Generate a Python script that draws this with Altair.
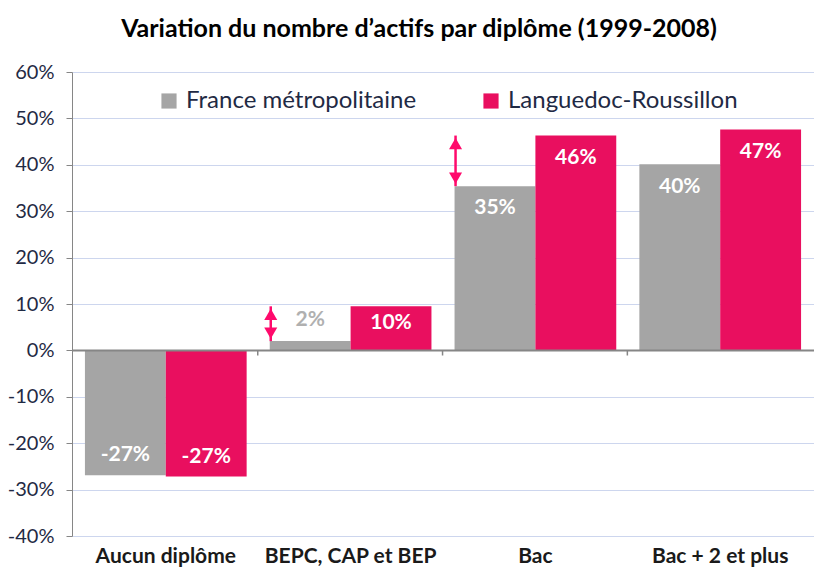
import altair as alt
import pandas as pd

categories = ["Aucun diplôme", "BEPC, CAP et BEP", "Bac", "Bac + 2 et plus"]
series = ["France métropolitaine", "Languedoc-Roussillon"]
france = [-26.9, 2.0, 35.4, 40.1]
lr = [-27.2, 9.5, 46.3, 47.6]
france_labels = ["-27%", "2%", "35%", "40%"]
lr_labels = ["-27%", "10%", "46%", "47%"]
y_ticks = [-40, -30, -20, -10, 0, 10, 20, 30, 40, 50, 60]
# arrows: (category, from, to)
arrow_cats = ["BEPC, CAP et BEP", "Bac"]
arrow_from = [2.0, 35.4]
arrow_to = [9.5, 46.3]

GRAY = "#a5a5a5"
PINK = "#e90f5f"
FONT = "Lato"

rows = []
for i, c in enumerate(categories):
    rows.append({"cat": c, "serie": series[0], "v": france[i], "lab": france_labels[i]})
    rows.append({"cat": c, "serie": series[1], "v": lr[i], "lab": lr_labels[i]})
df = pd.DataFrame(rows)


def lab_y(r):
    if r["v"] < 0:
        return r["v"] + 4.3
    if r["lab"] == "2%":
        return 6.6
    if r["lab"] == "10%":
        return 5.8
    return r["v"] - 4.8


df["ly"] = df.apply(lab_y, axis=1)
df["lcolor"] = ["#ffffff" if l != "2%" else "#b0b0b0" for l in df["lab"]]

arr = pd.DataFrame({"cat": arrow_cats, "a": arrow_from, "b": arrow_to})

xscale = alt.Scale(domain=categories, paddingInner=0.125, paddingOuter=0.07)
yscale = alt.Scale(domain=[-40, 60], nice=False)

x_enc = alt.X("cat:N", scale=xscale, sort=categories, title=None,
              axis=alt.Axis(labelAngle=0, labelFont=FONT, labelFontSize=21, labelFontWeight="bold",
                            labelColor="#1a1a1a", domain=False, ticks=False, labelPadding=9,
                            labelLimit=0))
y_enc = alt.Y("v:Q", scale=yscale, title=None,
              axis=alt.Axis(values=y_ticks, labelExpr="datum.value + '%'", labelFont=FONT,
                            labelFontSize=20, labelColor="#1f2a44", domainColor="#868686",
                            tickColor="#868686", tickSize=6, labelPadding=12,
                            gridColor="#cdd6ee", gridWidth=1.2))

bars = alt.Chart(df).mark_bar(strokeWidth=0).encode(
    x=x_enc,
    xOffset=alt.XOffset("serie:N", sort=series, scale=alt.Scale(paddingInner=0, paddingOuter=0)),
    y=y_enc,
    color=alt.Color("serie:N", sort=series,
                    scale=alt.Scale(domain=series, range=[GRAY, PINK]),
                    legend=alt.Legend(title=None, orient="none", legendX=81, legendY=13,
                                      direction="horizontal", symbolType="square", symbolSize=230,
                                      symbolStrokeWidth=0, labelFont=FONT, labelFontSize=24,
                                      labelColor="#1f2a44", columnPadding=62, labelOffset=5,
                                      labelLimit=0, fillColor="#ffffff", padding=4)),
)

labels = alt.Chart(df).mark_text(font=FONT, fontSize=21, fontWeight="bold").encode(
    x=alt.X("cat:N", scale=xscale, sort=categories),
    xOffset=alt.XOffset("serie:N", sort=series),
    y=alt.Y("ly:Q", scale=yscale),
    text="lab:N",
    color=alt.Color("lcolor:N", scale=None),
)

zero = alt.Chart(pd.DataFrame({"z": [0]})).mark_rule(color="#868686", strokeWidth=2).encode(
    y=alt.Y("z:Q", scale=yscale))

bounds = pd.DataFrame({"cat": categories[1:], "z": [0] * 3, "z2": [-1.1] * 3})
ticks = alt.Chart(bounds).mark_rule(color="#868686", strokeWidth=1.5, xOffset=-12).encode(
    x=alt.X("cat:N", scale=xscale, sort=categories, bandPosition=0),
    y=alt.Y("z:Q", scale=yscale), y2="z2:Q")

shaft = alt.Chart(arr).mark_rule(color="#ff0a6c", strokeWidth=2.5, xOffset=1).encode(
    x=alt.X("cat:N", scale=xscale, sort=categories, bandPosition=0),
    y=alt.Y("a:Q", scale=yscale), y2="b:Q")
head_up = alt.Chart(arr).mark_point(shape="triangle-up", filled=True, color="#ff0a6c",
                                    size=170, opacity=1, xOffset=1, yOffset=8).encode(
    x=alt.X("cat:N", scale=xscale, sort=categories, bandPosition=0),
    y=alt.Y("b:Q", scale=yscale))
head_down = alt.Chart(arr).mark_point(shape="triangle-down", filled=True, color="#ff0a6c",
                                      size=170, opacity=1, xOffset=1, yOffset=-8).encode(
    x=alt.X("cat:N", scale=xscale, sort=categories, bandPosition=0),
    y=alt.Y("a:Q", scale=yscale))

chart = alt.layer(bars, zero, ticks, labels, shaft, head_up, head_down).properties(
    width=742, height=464,
    autosize=alt.AutoSizeParams(type="none"),
    padding={"left": 64, "top": 64, "right": 0, "bottom": 39},
    title=alt.Title("Variation du nombre d’actifs par diplôme (1999-2008)", font=FONT,
                    fontSize=25, fontWeight="bold", color="#000000", offset=20, dx=-24),
).configure_view(stroke=None).configure_axisY(grid=True).configure_axisX(grid=False)

chart.save("out.html", embed_options={"renderer": "svg", "actions": False})
